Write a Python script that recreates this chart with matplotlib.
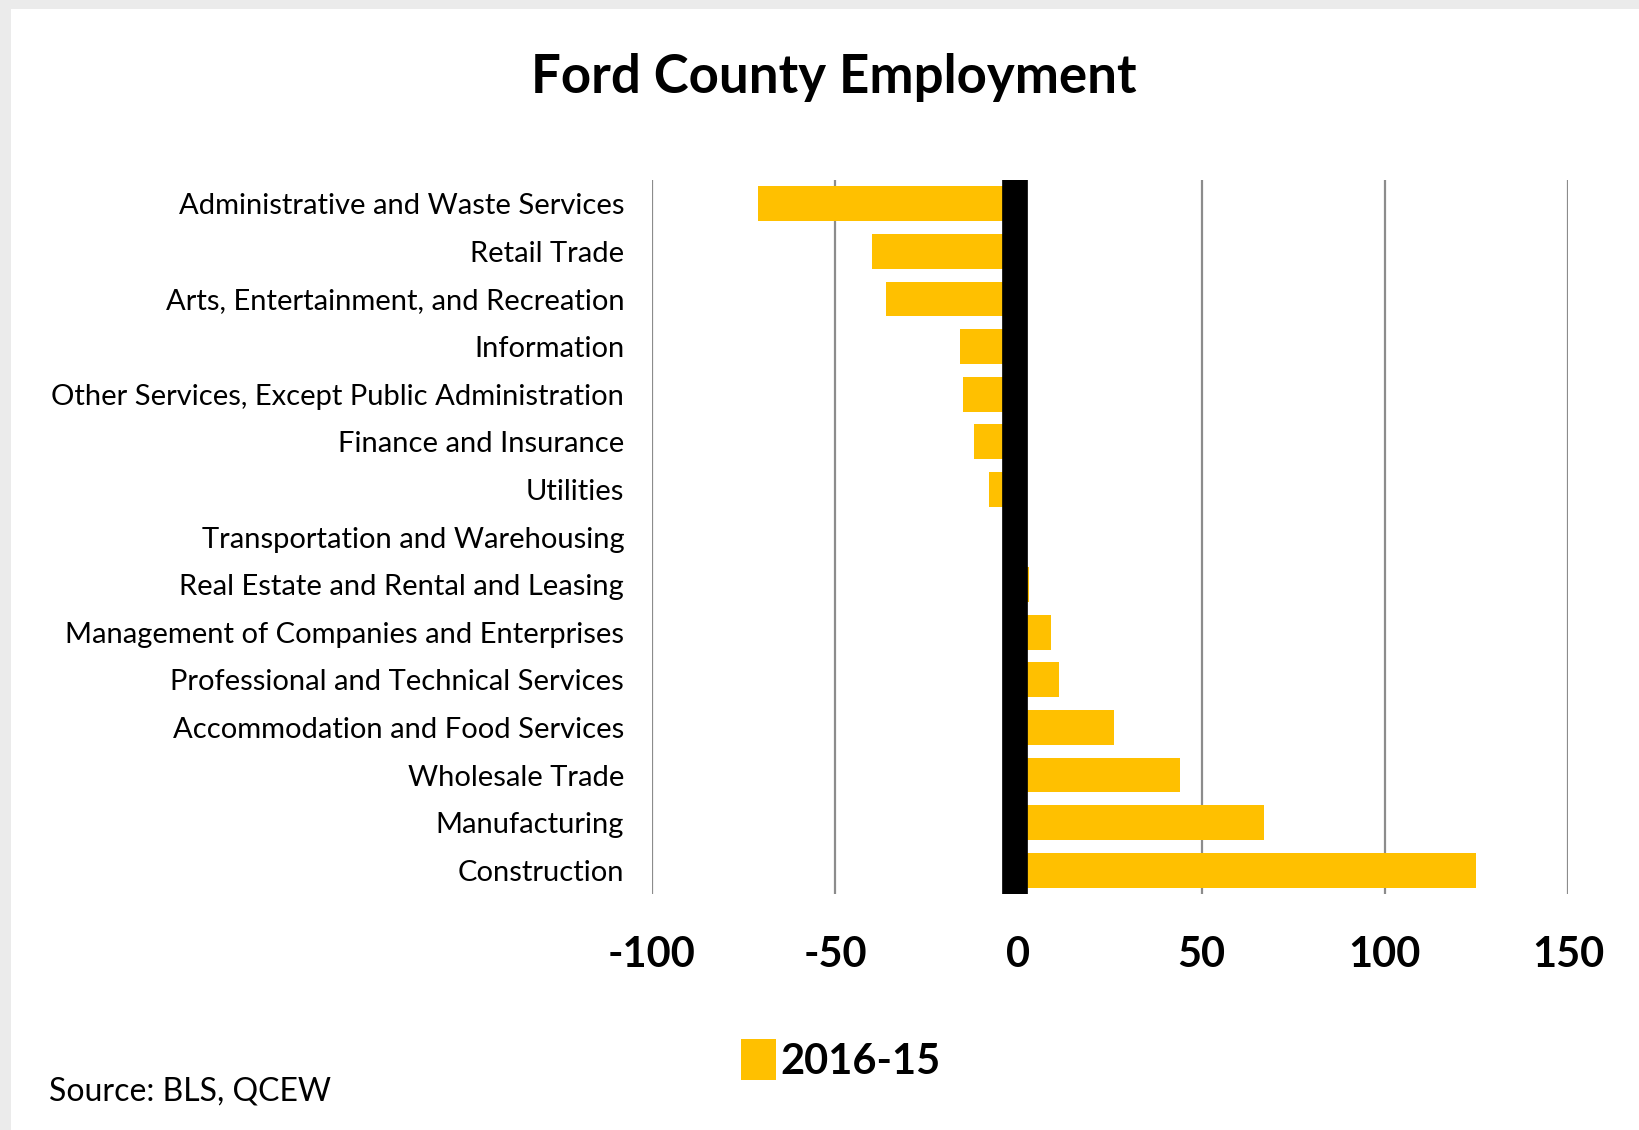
import numpy as np
import matplotlib
matplotlib.use("Agg")
import matplotlib.pyplot as plt
import matplotlib.transforms as mtransforms
from matplotlib.patches import Rectangle

plt.rcParams['font.family'] = ['Lato', 'DejaVu Sans']

# data
industries = [
    "Administrative and Waste Services",
    "Retail Trade",
    "Arts, Entertainment, and Recreation",
    "Information",
    "Other Services, Except Public Administration",
    "Finance and Insurance",
    "Utilities",
    "Transportation and Warehousing",
    "Real Estate and Rental and Leasing",
    "Management of Companies and Enterprises",
    "Professional and Technical Services",
    "Accommodation and Food Services",
    "Wholesale Trade",
    "Manufacturing",
    "Construction",
]
change_2016_15 = [-71, -40, -36, -16, -15, -12, -8, 0, 3, 9, 11, 26, 44, 67, 125]
xticks = [-100, -50, 0, 50, 100, 150]

fig = plt.figure(figsize=(16.39, 11.30), dpi=100, facecolor='#ebebeb')
fig.patches.append(Rectangle((0.007, 0), 0.993, 0.992, transform=fig.transFigure,
                             facecolor='white', edgecolor='none', zorder=-5))

ax = fig.add_axes([0.3978, 0.2088, 0.5589, 0.6319])
ax.set_zorder(2)
ax.set_facecolor('white')

y = np.arange(len(industries))
ax.barh(y, change_2016_15, height=0.73, color='#FFC000', zorder=2, label='2016-15')
# thick zero line, sits a touch left of zero like the original
shift = mtransforms.offset_copy(ax.get_xaxis_transform(), fig=fig, x=-3, y=0, units='dots')
ax.plot([0, 0], [0, 1], color='black', lw=18.5, solid_capstyle='butt',
        transform=shift, zorder=3)

ax.set_xlim(-100, 150)
ax.set_ylim(len(industries) - 0.5, -0.5)
ax.set_xticks(xticks)
ax.set_xticklabels([str(v) for v in xticks], fontsize=30, fontweight='bold')
ax.set_yticks(y)
ax.set_yticklabels(industries, fontsize=21)
ax.tick_params(axis='x', length=0, pad=30)
ax.tick_params(axis='y', length=0, pad=20)
for s in ax.spines.values():
    s.set_visible(False)
ax.grid(axis='x', color='#8c8c8c', lw=1.6, zorder=1)
ax.set_axisbelow(True)

fig.text(0.509, 0.931, "Ford County Employment", ha='center', va='center',
         fontsize=38, fontweight='bold')

leg = fig.legend(loc='center', bbox_to_anchor=(0.513, 0.062), frameon=False,
                 prop={'weight': 'bold', 'size': 30},
                 handlelength=0.85, handleheight=1.15, handletextpad=0.1)

fig.text(0.03, 0.034, "Source: BLS, QCEW", ha='left', va='center', fontsize=23)

fig.savefig('out.png', dpi=100, facecolor=fig.get_facecolor())
